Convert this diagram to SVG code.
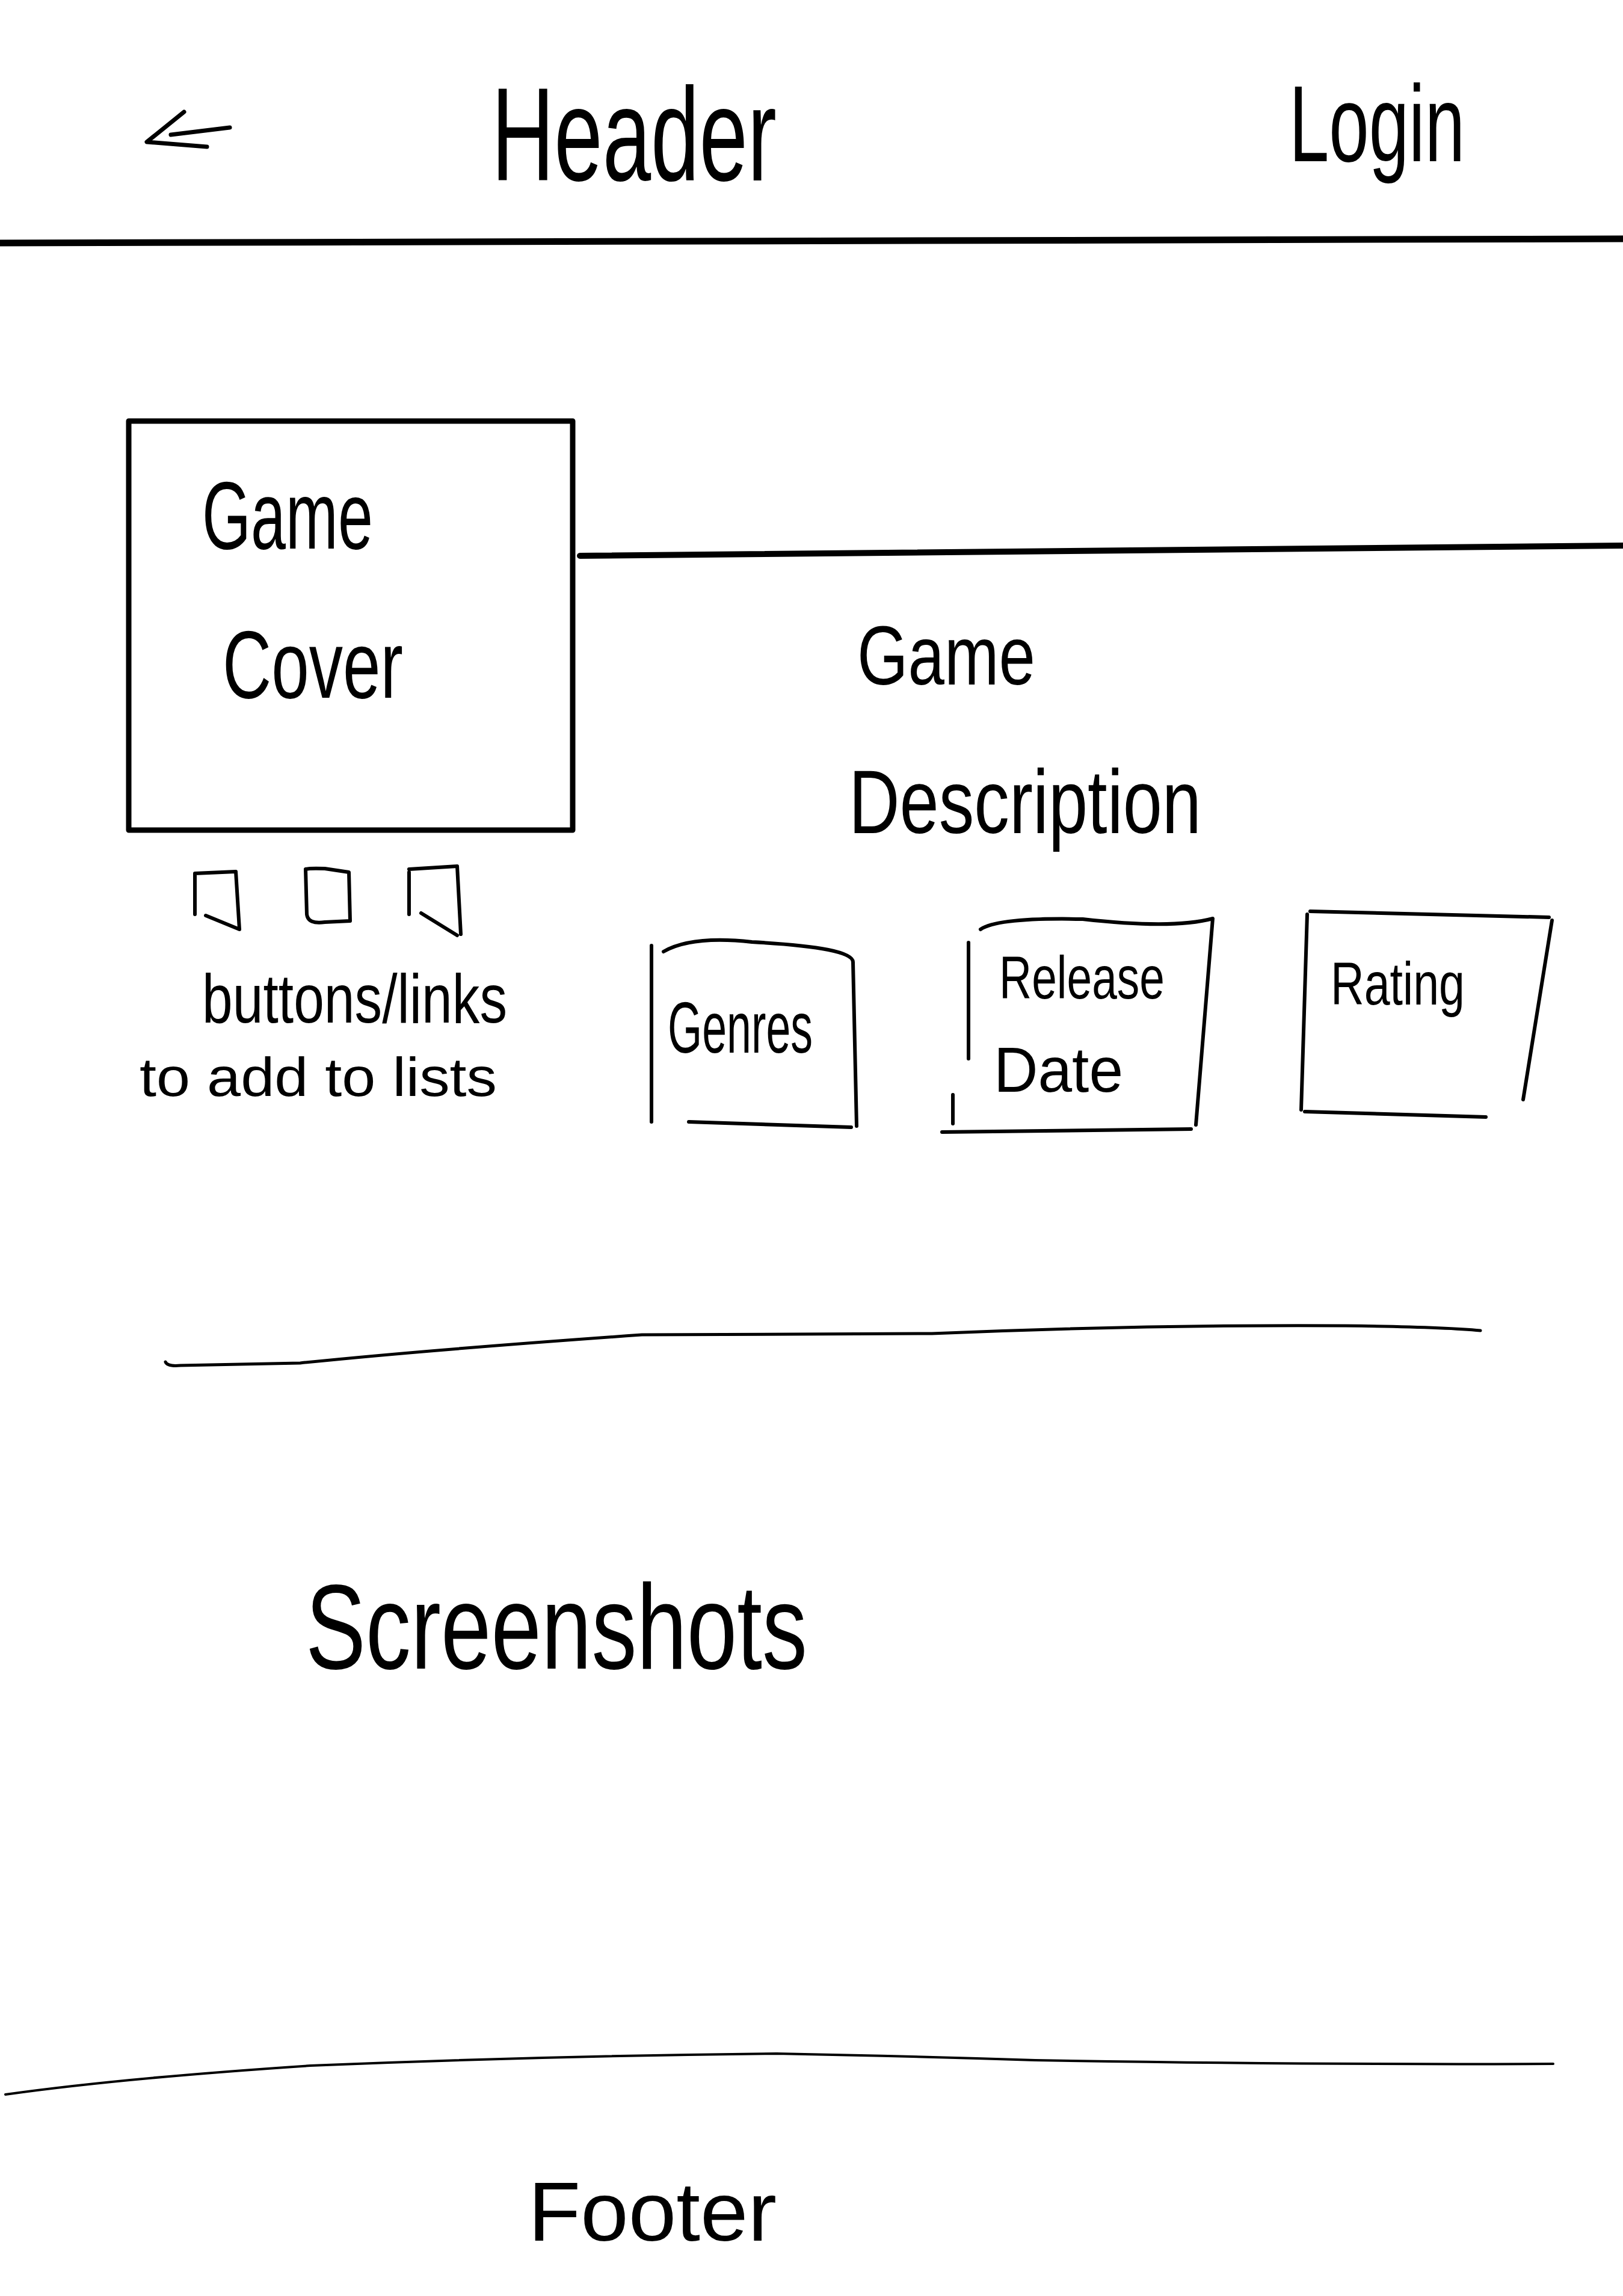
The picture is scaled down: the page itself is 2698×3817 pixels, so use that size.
<svg xmlns="http://www.w3.org/2000/svg" width="2698" height="3817" viewBox="0 0 2698 3817">
<style>
.s{fill:none;stroke:#000;stroke-linecap:round;stroke-linejoin:round}
.t{font-family:"Liberation Sans","DejaVu Sans",sans-serif;fill:#000}
</style>
<rect width="2698" height="3817" fill="#fff"/>
<g id="header">
<path class="s" stroke-width="11" d="M0 404 L2698 397"/>
<path class="s" stroke-width="7" d="M306 186 L244 236 L344 244 M284 224 Q300 222 382 212"/>
<text class="t" x="817" y="300" font-size="220" textLength="474" lengthAdjust="spacingAndGlyphs">Header</text>
<text class="t" x="2143" y="268" font-size="180" textLength="292" lengthAdjust="spacingAndGlyphs">Login</text>
</g>
<g id="game-cover">
<rect class="s" x="214" y="700" width="738" height="680" stroke-width="9"/>
<path class="s" stroke-width="4" d="M214 700 L952 700 M214 1380 L952 1380"/>
<text class="t" x="336" y="912" font-size="160" textLength="284" lengthAdjust="spacingAndGlyphs">Game</text>
<text class="t" x="370" y="1160" font-size="160" textLength="300" lengthAdjust="spacingAndGlyphs">Cover</text>
</g>
<g id="description">
<path class="s" stroke-width="10" d="M964 924 L2698 907"/>
<text class="t" x="1425" y="1138" font-size="140" textLength="296" lengthAdjust="spacingAndGlyphs">Game</text>
<text class="t" x="1411" y="1385" font-size="150" textLength="586" lengthAdjust="spacingAndGlyphs">Description</text>
</g>
<g id="list-buttons">
<path class="s" stroke-width="6" d="M324 1452 L324 1520 M324 1452 L392 1449 L398 1545 L342 1522"/>
<path class="s" stroke-width="6" d="M508 1445 L510 1520 Q512 1537 540 1533 L582 1531 L580 1450 L540 1444 Q515 1443 508 1445"/>
<path class="s" stroke-width="6" d="M680 1450 L680 1520 M680 1445 L760 1440 L766 1553 M700 1518 L760 1555"/>
<text class="t" x="336" y="1700" font-size="115" textLength="507" lengthAdjust="spacingAndGlyphs">buttons/links</text>
<text class="t" x="232" y="1822" font-size="90" textLength="594" lengthAdjust="spacingAndGlyphs">to add to lists</text>
</g>
<g id="genres">
<path class="s" stroke-width="6" d="M1083 1572 L1083 1865 M1103 1582 Q1150 1555 1250 1566 Q1420 1575 1418 1600 L1424 1872 M1145 1865 L1415 1874"/>
<text class="t" x="1110" y="1750" font-size="120" textLength="241" lengthAdjust="spacingAndGlyphs">Genres</text>
</g>
<g id="release-date">
<path class="s" stroke-width="6" d="M1610 1567 L1610 1760 M1584 1820 L1584 1868 M1630 1545 Q1660 1525 1800 1528 Q1950 1545 2016 1527 L1988 1870 M1566 1882 L1980 1877"/>
<text class="t" x="1661" y="1660" font-size="100" textLength="275" lengthAdjust="spacingAndGlyphs">Release</text>
<text class="t" x="1652" y="1815" font-size="105" textLength="215" lengthAdjust="spacingAndGlyphs">Date</text>
</g>
<g id="rating">
<path class="s" stroke-width="6" d="M2178 1515 L2575 1525 M2173 1520 L2163 1845 M2580 1530 L2532 1828 M2169 1848 L2470 1857"/>
<text class="t" x="2212" y="1670" font-size="100" textLength="223" lengthAdjust="spacingAndGlyphs">Rating</text>
</g>
<g id="screenshots">
<path class="s" stroke-width="5" d="M275 2264 Q278 2272 300 2270 L499 2266 Q700 2245 1067 2219 L1549 2217 Q1900 2202 2237 2204 Q2400 2206 2461 2212"/>
<text class="t" x="508" y="2774" font-size="200" textLength="834" lengthAdjust="spacingAndGlyphs">Screenshots</text>
</g>
<g id="footer">
<path class="s" stroke-width="4" d="M9 3482 Q200 3455 516 3434 Q900 3418 1291 3414 Q1500 3418 1721 3425 Q2200 3433 2582 3431"/>
<text class="t" x="878" y="3725" font-size="140" textLength="413" lengthAdjust="spacingAndGlyphs">Footer</text>
</g>
</svg>
